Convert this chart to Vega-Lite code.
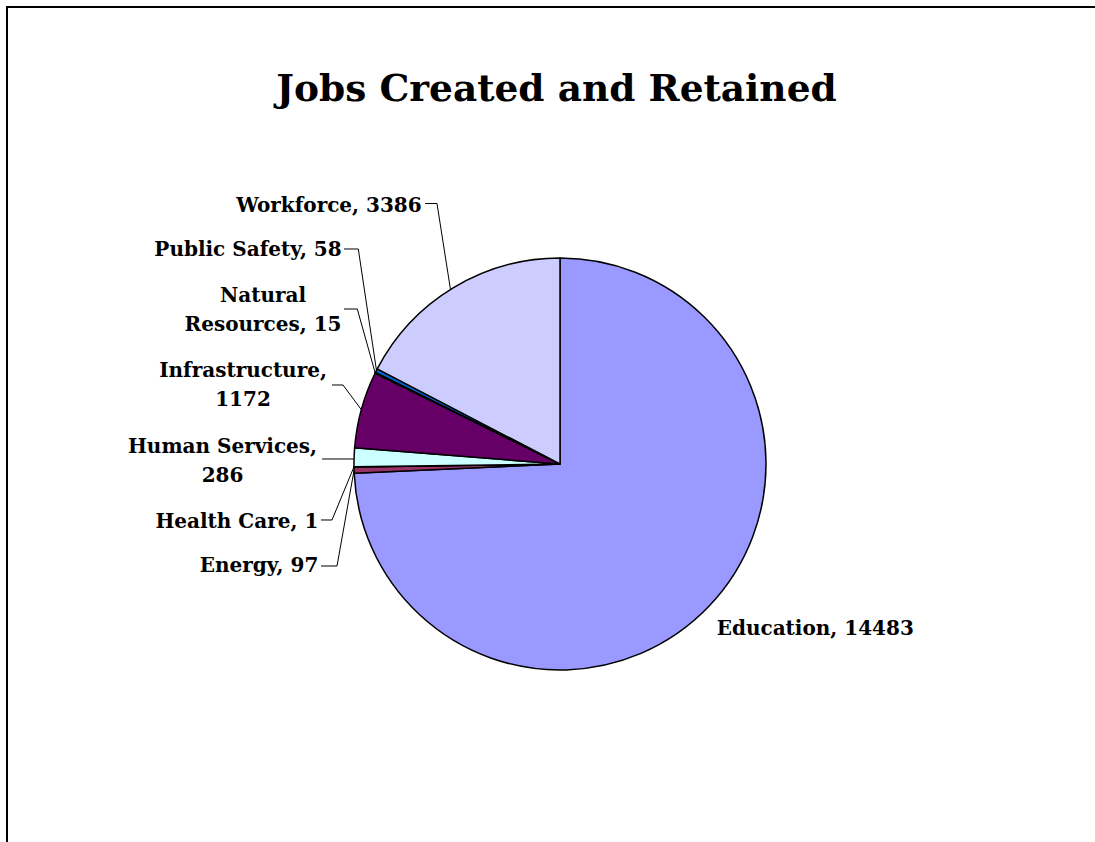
{
  "$schema": "https://vega.github.io/schema/vega-lite/v6.json",
  "width": 1095,
  "height": 842,
  "autosize": {"type": "none"},
  "padding": 0,
  "background": "white",
  "title": {
    "text": "Jobs Created and Retained",
    "font": "DejaVu Serif",
    "fontSize": 37.5,
    "fontWeight": "bold",
    "color": "black",
    "anchor": "middle",
    "frame": "group",
    "baseline": "alphabetic",
    "offset": -138,
    "dx": 9
  },
  "data": {
    "values": [
      {"category": "Education", "jobs": 14483, "label": "Education, 14483"},
      {"category": "Energy", "jobs": 97, "label": "Energy, 97"},
      {"category": "Health Care", "jobs": 1, "label": "Health Care, 1"},
      {"category": "Human Services", "jobs": 286, "label": ["Human Services,", "286"]},
      {"category": "Infrastructure", "jobs": 1172, "label": ["Infrastructure,", "1172"]},
      {"category": "Natural Resources", "jobs": 15, "label": ["Natural", "Resources, 15"]},
      {"category": "Public Safety", "jobs": 58, "label": "Public Safety, 58"},
      {"category": "Workforce", "jobs": 3386, "label": "Workforce, 3386"}
    ]
  },
  "config": {
    "view": {"stroke": null},
    "axis": {"disable": true},
    "text": {"font": "DejaVu Serif", "fontWeight": "bold", "fontSize": 20, "lineHeight": 29, "baseline": "alphabetic", "color": "black"},
    "rule": {"color": "black", "strokeWidth": 1}
  },
  "layer": [
    {
      "transform": [{"filter": "datum.category === 'Education'"}],
      "mark": {"type": "rect", "filled": false, "stroke": "black", "strokeWidth": 2},
      "encoding": {
        "x": {"datum": -2.6845, "type": "quantitative", "axis": null, "scale": {"domain": [-2.718447, 2.597087], "nice": false, "zero": false}},
        "x2": {"datum": 2.8},
        "y": {"datum": 2.2184, "type": "quantitative", "axis": null, "scale": {"domain": [-1.834951, 2.252427], "nice": false, "zero": false}},
        "y2": {"datum": -2.0}
      }
    },
    {
      "mark": {"type": "arc", "radius": 206, "stroke": "black", "strokeWidth": 1.5},
      "encoding": {
        "theta": {"field": "jobs", "type": "quantitative", "stack": true},
        "order": {"field": "category", "sort": "ascending"},
        "color": {
          "field": "category",
          "type": "nominal",
          "legend": null,
          "scale": {
            "domain": ["Education", "Energy", "Health Care", "Human Services", "Infrastructure", "Natural Resources", "Public Safety", "Workforce"],
            "range": ["#9999FF", "#993366", "#FFFFCC", "#CCFFFF", "#660066", "#FF8080", "#0066CC", "#CCCCFF"]
          }
        },
        "x": {"datum": 0, "type": "quantitative"},
        "y": {"datum": 0, "type": "quantitative"}
      }
    },
    {
      "transform": [{"filter": "datum.category === 'Workforce'"}],
      "layer": [
        {"mark": {"type": "text", "align": "right"}, "encoding": {"x": {"datum": -0.6714, "type": "quantitative"}, "y": {"datum": 1.2233, "type": "quantitative"}, "text": {"field": "label"}}},
        {"mark": "rule", "encoding": {"x": {"datum": -0.6553, "type": "quantitative"}, "x2": {"datum": -0.5971}, "y": {"datum": 1.2646, "type": "quantitative"}}},
        {"mark": "rule", "encoding": {"x": {"datum": -0.5971, "type": "quantitative"}, "x2": {"datum": -0.5316}, "y": {"datum": 1.2646, "type": "quantitative"}, "y2": {"datum": 0.8471}}}
      ]
    },
    {
      "transform": [{"filter": "datum.category === 'Public Safety'"}],
      "layer": [
        {"mark": {"type": "text", "align": "right"}, "encoding": {"x": {"datum": -1.0597, "type": "quantitative"}, "y": {"datum": 1.0073, "type": "quantitative"}, "text": {"field": "label"}}},
        {"mark": "rule", "encoding": {"x": {"datum": -1.0485, "type": "quantitative"}, "x2": {"datum": -0.9791}, "y": {"datum": 1.0437, "type": "quantitative"}}},
        {"mark": "rule", "encoding": {"x": {"datum": -0.9791, "type": "quantitative"}, "x2": {"datum": -0.8908}, "y": {"datum": 1.0437, "type": "quantitative"}, "y2": {"datum": 0.4539}}}
      ]
    },
    {
      "transform": [{"filter": "datum.category === 'Natural Resources'"}],
      "layer": [
        {"mark": {"type": "text", "align": "center"}, "encoding": {"x": {"datum": -1.4417, "type": "quantitative"}, "y": {"datum": 0.785, "type": "quantitative"}, "text": {"field": "label"}}},
        {"mark": "rule", "encoding": {"x": {"datum": -1.0485, "type": "quantitative"}, "x2": {"datum": -0.984}, "y": {"datum": 0.7524, "type": "quantitative"}}},
        {"mark": "rule", "encoding": {"x": {"datum": -0.984, "type": "quantitative"}, "x2": {"datum": -0.8971}, "y": {"datum": 0.7524, "type": "quantitative"}, "y2": {"datum": 0.4422}}}
      ]
    },
    {
      "transform": [{"filter": "datum.category === 'Infrastructure'"}],
      "layer": [
        {"mark": {"type": "text", "align": "center"}, "encoding": {"x": {"datum": -1.5388, "type": "quantitative"}, "y": {"datum": 0.4209, "type": "quantitative"}, "text": {"field": "label"}}},
        {"mark": "rule", "encoding": {"x": {"datum": -1.1068, "type": "quantitative"}, "x2": {"datum": -1.0534}, "y": {"datum": 0.3835, "type": "quantitative"}}},
        {"mark": "rule", "encoding": {"x": {"datum": -1.0534, "type": "quantitative"}, "x2": {"datum": -0.9646}, "y": {"datum": 0.3835, "type": "quantitative"}, "y2": {"datum": 0.2641}}}
      ]
    },
    {
      "transform": [{"filter": "datum.category === 'Human Services'"}],
      "layer": [
        {"mark": {"type": "text", "align": "center"}, "encoding": {"x": {"datum": -1.6383, "type": "quantitative"}, "y": {"datum": 0.0519, "type": "quantitative"}, "text": {"field": "label"}}},
        {"mark": "rule", "encoding": {"x": {"datum": -1.1553, "type": "quantitative"}, "x2": {"datum": -1.0}, "y": {"datum": 0.0243, "type": "quantitative"}}}
      ]
    },
    {
      "transform": [{"filter": "datum.category === 'Health Care'"}],
      "layer": [
        {"mark": {"type": "text", "align": "right"}, "encoding": {"x": {"datum": -1.1733, "type": "quantitative"}, "y": {"datum": -0.3121, "type": "quantitative"}, "text": {"field": "label"}}},
        {"mark": "rule", "encoding": {"x": {"datum": -1.1602, "type": "quantitative"}, "x2": {"datum": -1.1068}, "y": {"datum": -0.2718, "type": "quantitative"}}},
        {"mark": "rule", "encoding": {"x": {"datum": -1.1068, "type": "quantitative"}, "x2": {"datum": -1.0}, "y": {"datum": -0.2718, "type": "quantitative"}, "y2": {"datum": -0.0136}}}
      ]
    },
    {
      "transform": [{"filter": "datum.category === 'Energy'"}],
      "layer": [
        {"mark": {"type": "text", "align": "right"}, "encoding": {"x": {"datum": -1.1733, "type": "quantitative"}, "y": {"datum": -0.5243, "type": "quantitative"}, "text": {"field": "label"}}},
        {"mark": "rule", "encoding": {"x": {"datum": -1.1602, "type": "quantitative"}, "x2": {"datum": -1.0825}, "y": {"datum": -0.4951, "type": "quantitative"}}},
        {"mark": "rule", "encoding": {"x": {"datum": -1.0825, "type": "quantitative"}, "x2": {"datum": -0.9995}, "y": {"datum": -0.4951, "type": "quantitative"}, "y2": {"datum": -0.0296}}}
      ]
    },
    {
      "transform": [{"filter": "datum.category === 'Education'"}],
      "mark": {"type": "text", "align": "left"},
      "encoding": {"x": {"datum": 0.7607, "type": "quantitative"}, "y": {"datum": -0.8301, "type": "quantitative"}, "text": {"field": "label"}}
    }
  ]
}
